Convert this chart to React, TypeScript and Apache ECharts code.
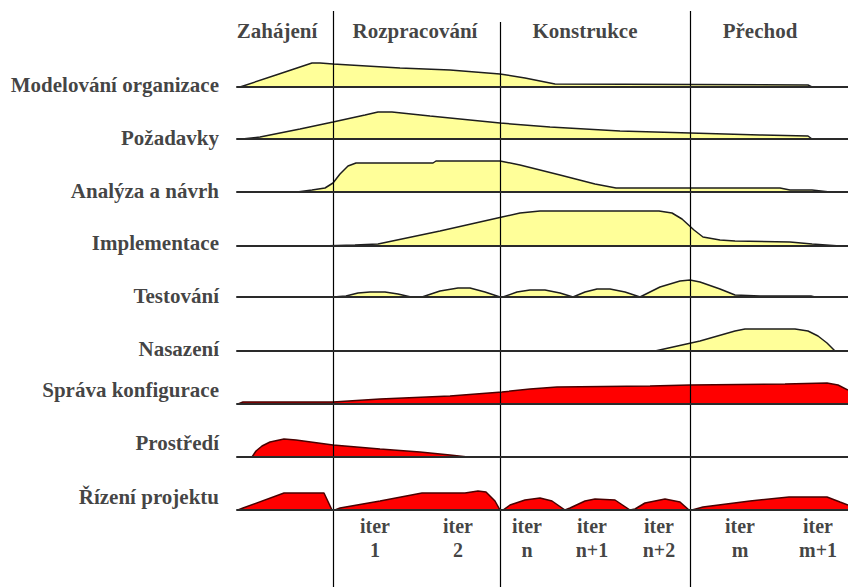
import React, { useEffect, useRef } from "react";
import * as echarts from "echarts";

// ---- Data ----
const phaseNames = ["Zahájení", "Rozpracování", "Konstrukce", "Přechod"];
const phaseBoundaries = [333, 500, 690];
const iterationLabels = ["iter\n1", "iter\n2", "iter\nn", "iter\nn+1", "iter\nn+2", "iter\nm", "iter\nm+1"];
const iterationTimes = [375, 458, 527, 592, 659, 740, 818];

const disciplineNames = [
  "Modelování organizace",
  "Požadavky",
  "Analýza a návrh",
  "Implementace",
  "Testování",
  "Nasazení",
  "Správa konfigurace",
  "Prostředí",
  "Řízení projektu",
];

// [time, effort]
const modeling = [[240,0],[276,12],[312,24],[320,24],[333,23],[400,19],[450,17],[500,13],[525,9],[555,3],[808,2],[812,0]];
const requirements = [[242,0],[260,2],[300,10],[333,17],[365,24],[378,27],[392,27],[430,23],[500,16],[550,12],[620,8],[690,6],[760,4],[808,3],[812,0]];
const analysis = [[297,0],[312,2],[325,4],[333,9],[340,18],[348,26],[356,29],[433,29],[436,31],[500,31],[520,27],[560,17],[595,8],[616,4],[780,4],[790,2],[812,2],[830,0]];
const implementation = [[320,0],[355,1],[378,2],[440,15],[502,29],[520,33],[540,35],[659,35],[672,33],[682,27],[694,16],[703,9],[720,6],[735,5],[790,4],[812,2],[840,0]];
const testing = [[333,0],[346,1],[358,4],[370,5],[385,5],[398,3],[411,0],[422,0],[440,6],[458,9],[470,9],[485,5],[500,0],[503,0],[517,5],[530,7],[545,7],[560,4],[573,0],[585,5],[597,8],[610,8],[625,5],[640,0],[660,10],[680,16],[690,17],[700,15],[720,8],[735,2],[760,1],[811,1],[815,0]];
const deployment = [[655,0],[700,10],[735,20],[745,22],[795,22],[808,20],[818,15],[827,8],[835,0]];
const configuration = [[238,0],[243,2],[333,2],[380,5],[450,8],[502,12],[530,15],[557,17],[650,18],[690,19],[785,20],[827,21],[838,19],[848,14]];
const environment = [[252,0],[256,6],[262,11],[270,15],[284,18],[296,17],[333,12],[380,8],[420,5],[450,2],[468,0]];
const management = [[238,0],[243,2],[284,17],[324,17],[332,0],[335,0],[340,2],[380,9],[422,17],[465,17],[478,19],[486,18],[495,9],[500,0],[503,0],[510,5],[525,10],[540,12],[552,9],[565,0],[570,2],[585,9],[595,11],[615,10],[630,0],[635,1],[645,7],[665,11],[680,8],[689,0],[692,0],[703,3],[750,9],[789,13],[827,13],[840,8],[848,5]];

const disciplineData = [modeling, requirements, analysis, implementation, testing, deployment, configuration, environment, management];
const supportingRows = [false, false, false, false, false, false, true, true, true];

// ---- Layout / style ----
const W = 848;
const H = 587;
const T0 = 237;
const T1 = 848;
const rowHeight = 40;
const rowBaselines = [87, 139, 192, 246, 297, 351, 404, 457, 510];
const rowLabelY = [85, 138, 191, 243, 296, 349, 390, 443, 497];
const rowLabelRight = 219;
const phaseLabelX = [277, 415, 585, 760];
const phaseLabelY = 31;
const phaseLineTop = [11, 22, 11];
const iterLabelY = 538;

const FONT = "'Liberation Serif', 'Times New Roman', serif";
const textStyle = { fontFamily: FONT, fontWeight: "bold" as const, fontSize: 21, color: "#111111" };

export default function App() {
  const ref = useRef<HTMLDivElement>(null);

  useEffect(() => {
    document.body.style.margin = "0";
    if (!ref.current) return;
    const chart = echarts.init(ref.current, undefined, { renderer: "svg" });

    const grids: any[] = [{ left: 0, top: 0, width: W, height: H }];
    const xAxes: any[] = [{ gridIndex: 0, type: "value", min: 0, max: W, show: false }];
    const yAxes: any[] = [{ gridIndex: 0, type: "value", min: 0, max: H, inverse: true, show: false }];
    const series: any[] = [];

    rowBaselines.forEach((b, i) => {
      const gi = i + 1;
      grids.push({ left: T0, top: b - rowHeight, width: T1 - T0, height: rowHeight });
      xAxes.push({
        gridIndex: gi, type: "value", min: T0, max: T1, z: 5,
        axisLine: { show: true, lineStyle: { color: "#2a2a2a", width: 2 } },
        axisTick: { show: false }, axisLabel: { show: false }, splitLine: { show: false },
      });
      yAxes.push({ gridIndex: gi, type: "value", min: 0, max: rowHeight, show: false });
      const red = supportingRows[i];
      series.push({
        type: "line",
        name: disciplineNames[i],
        xAxisIndex: gi,
        yAxisIndex: gi,
        data: disciplineData[i],
        showSymbol: false,
        symbol: "none",
        z: 3,
        lineStyle: { color: red ? "#4a0000" : "#1e1e1e", width: 1.5 },
        areaStyle: { color: red ? "#ff0000" : "#ffff99", opacity: 1 },
      });
    });

    // phase separators
    series.push({
      type: "scatter",
      xAxisIndex: 0, yAxisIndex: 0, z: 1, silent: true,
      data: [],
      markLine: {
        silent: true, symbol: ["none", "none"], label: { show: false },
        lineStyle: { color: "#000", width: 1.2, type: "solid" },
        data: phaseBoundaries.map((t, i) => [{ coord: [t, phaseLineTop[i]] }, { coord: [t, H] }]),
      },
    });

    // phase headers
    series.push({
      type: "scatter", xAxisIndex: 0, yAxisIndex: 0, z: 4, silent: true,
      symbolSize: 0,
      data: phaseNames.map((n, i) => ({ name: n, value: [phaseLabelX[i], phaseLabelY] })),
      label: { show: true, position: "inside", formatter: "{b}", ...textStyle },
    });

    // discipline labels
    series.push({
      type: "scatter", xAxisIndex: 0, yAxisIndex: 0, z: 4, silent: true,
      symbolSize: 0,
      data: disciplineNames.map((n, i) => ({ name: n, value: [rowLabelRight, rowLabelY[i]] })),
      label: { show: true, position: "left", distance: 0, formatter: "{b}", ...textStyle },
    });

    // iteration labels
    series.push({
      type: "scatter", xAxisIndex: 0, yAxisIndex: 0, z: 4, silent: true,
      symbolSize: 0,
      data: iterationLabels.map((n, i) => ({ name: n, value: [iterationTimes[i], iterLabelY] })),
      label: { show: true, position: "inside", formatter: "{b}", ...textStyle, fontSize: 20, lineHeight: 24 },
    });

    chart.setOption({
      animation: false,
      backgroundColor: "#ffffff",
      grid: grids,
      xAxis: xAxes,
      yAxis: yAxes,
      series,
    });

    return () => chart.dispose();
  }, []);

  return <div ref={ref} style={{ width: W, height: H }} />;
}
